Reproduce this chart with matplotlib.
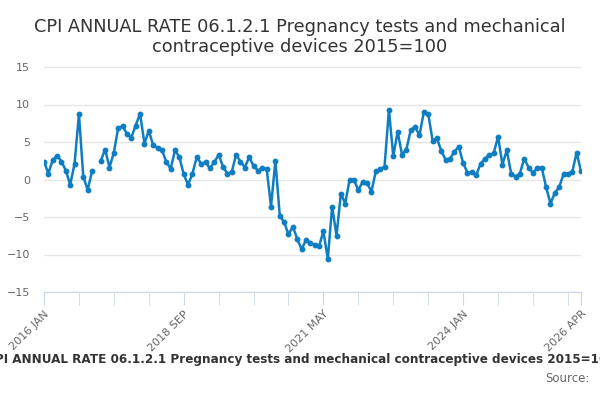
import numpy as np
import pandas as pd
import matplotlib
matplotlib.use("Agg")
import matplotlib.pyplot as plt

# monthly annual rate, 2016 JAN .. 2026 APR (2017 JAN missing)
months = pd.date_range("2016-01-01", "2026-04-01", freq="MS")
rate = [
    2.4, 0.8, 2.6, 3.2, 2.4, 1.2, -0.7, 2.1, 8.7, 0.4, -1.4, 1.1,
    np.nan, 2.5, 4.0, 1.6, 3.6, 6.9, 7.1, 6.1, 5.6, 7.2, 8.8, 4.8,
    6.5, 4.6, 4.2, 3.9, 2.4, 1.4, 3.9, 3.0, 0.7, -0.7, 0.8, 3.0,
    2.1, 2.3, 1.5, 2.3, 3.3, 1.7, 0.8, 1.0, 3.3, 2.4, 1.6, 3.0,
    1.8, 1.2, 1.5, 1.4, -3.6, 2.5, -4.8, -5.7, -7.3, -6.3, -7.9, -9.3,
    -8.1, -8.4, -8.7, -8.9, -6.9, -10.6, -3.6, -7.5, -1.9, -3.2, 0.0, -0.1,
    -1.4, -0.3, -0.5, -1.6, 1.1, 1.4, 1.7, 9.3, 3.1, 6.4, 3.3, 4.0,
    6.6, 7.0, 5.9, 9.0, 8.8, 5.2, 5.5, 3.8, 2.6, 2.8, 3.7, 4.4,
    2.2, 0.9, 1.0, 0.6, 2.1, 2.8, 3.3, 3.5, 5.7, 2.0, 3.9, 0.8,
    0.4, 0.8, 2.8, 1.6, 0.9, 1.6, 1.6, -1.0, -3.2, -1.8, -1.0, 0.7,
    0.8, 1.0, 3.6, 1.1,
]
label_months = ["2016 JAN", "2018 SEP", "2021 MAY", "2024 JAN", "2026 APR"]
title = "CPI ANNUAL RATE 06.1.2.1 Pregnancy tests and mechanical contraceptive devices 2015=100"

names = [d.strftime("%Y %b").upper() for d in months]
x = np.arange(len(months))

fig = plt.figure(figsize=(6, 4), dpi=100)
ax = fig.add_axes([44/600, 1-292/400, (581-44)/600, (292-67)/400])

ax.plot(x, rate, color="#0f7dc2", lw=1.8, marker="o", ms=3.2, zorder=3)

ax.set_xlim(0, len(months)-1)
ax.set_ylim(-15, 15)
ax.set_yticks(range(-15, 16, 5))
ax.grid(axis="y", color="#e6e6e6", lw=1)
ax.set_axisbelow(True)

ax.set_xticks(x[::8].tolist() + [x[-1]], minor=True)
major = [names.index(m) for m in label_months]
ax.set_xticks(major)
ax.set_xticklabels(label_months, rotation=45, ha="right", rotation_mode="anchor")

for s in ["top", "right", "left"]:
    ax.spines[s].set_visible(False)
ax.spines["bottom"].set_color("#ccd6eb")
ax.tick_params(axis="x", which="both", length=9, color="#ccd6eb", labelsize=8,
               labelcolor="#666666", pad=3)
ax.tick_params(axis="y", length=0, labelsize=8, labelcolor="#666666", pad=10)

fig.text(0.5, 0.955, "CPI ANNUAL RATE 06.1.2.1 Pregnancy tests and mechanical\ncontraceptive devices 2015=100",
         ha="center", va="top", fontsize=12.8, color="#333333", linespacing=1.15)
fig.text(0.502, 0.1, title, ha="center", va="center", fontsize=8.65, fontweight="bold", color="#333333")
fig.text(0.982, 0.055, "Source:", ha="right", va="center", fontsize=8.5, color="#666666")

fig.savefig("out.png", dpi=100)
